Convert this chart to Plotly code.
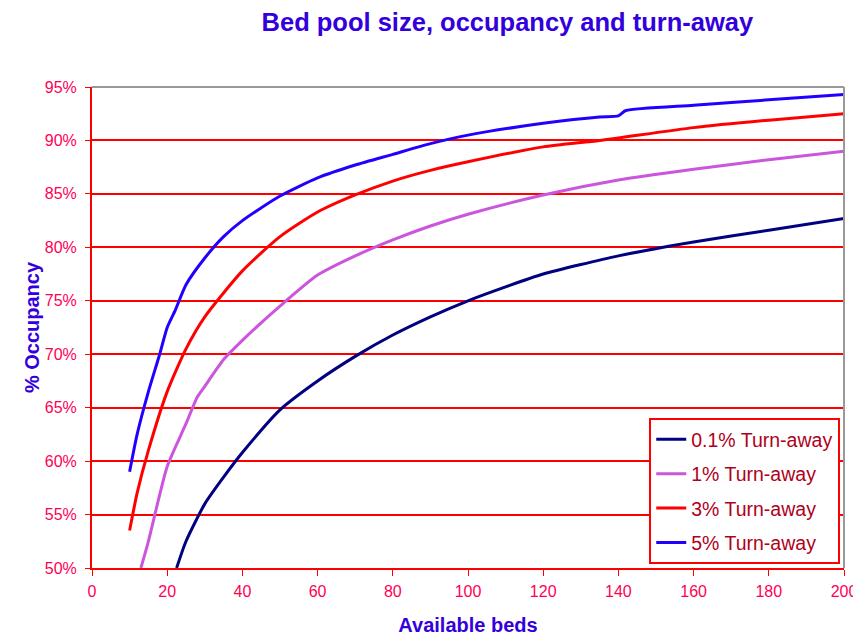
import plotly.graph_objects as go

# 0.1% turn-away
x_01 = [22.5, 25, 30, 35, 40, 50, 60, 70, 80, 90, 100, 110, 120, 140, 160, 180, 200]
y_01 = [50.0, 52.5, 56.0, 58.5, 60.8, 64.8, 67.5, 69.8, 71.8, 73.5, 75.0, 76.3, 77.5, 79.2, 80.5, 81.6, 82.7]
# 1% turn-away
x_1 = [13, 15, 20, 25, 28, 30, 35, 40, 50, 60, 70, 80, 90, 100, 120, 140, 160, 180, 200]
y_1 = [50.0, 52.5, 59.5, 63.5, 66.0, 67.0, 69.5, 71.3, 74.5, 77.4, 79.2, 80.7, 82.0, 83.1, 84.9, 86.3, 87.3, 88.2, 89.0]
# 3% turn-away
x_3 = [10, 12, 15, 20, 25, 30, 40, 50, 60, 70, 80, 90, 100, 120, 135, 160, 180, 200]
y_3 = [53.5, 57.0, 61.0, 66.5, 70.5, 73.5, 77.8, 81.0, 83.3, 84.9, 86.2, 87.2, 88.0, 89.4, 90.0, 91.2, 91.9, 92.5]
# 5% turn-away
x_5 = [10, 12, 15, 18, 20, 22, 25, 30, 35, 40, 50, 60, 70, 80, 90, 100, 120, 135, 140, 142, 160, 180, 200]
y_5 = [59.0, 62.5, 66.5, 70.0, 72.5, 74.0, 76.5, 79.0, 81.0, 82.5, 84.8, 86.5, 87.7, 88.7, 89.7, 90.5, 91.6, 92.2, 92.3, 92.8, 93.3, 93.8, 94.3]

series = [
    ("0.1% Turn-away", x_01, y_01, "#000080"),
    ("1% Turn-away", x_1, y_1, "#CC55DD"),
    ("3% Turn-away", x_3, y_3, "#FF0000"),
    ("5% Turn-away", x_5, y_5, "#2200FF"),
]

fig = go.Figure()
for i, (name, xs, ys, col) in enumerate(series):
    fig.add_trace(go.Scatter(x=xs, y=ys, mode="lines", name=name,
                             line=dict(color=col, width=3, shape="spline", smoothing=0.6),
                             legendgroup=str(i)))

tickfont = dict(family="Arial, Liberation Sans", size=16, color="#FF0055")
titlefont = dict(family="Arial, Liberation Sans", size=20, color="#3300DD", weight="bold")

fig.update_layout(
    width=861, height=637,
    margin=dict(l=84, r=18, t=79, b=74),
    paper_bgcolor="white", plot_bgcolor="white",
    showlegend=True,
    title=dict(text="Bed pool size, occupancy and turn-away",
               font=dict(family="Arial, Liberation Sans", size=25.5, color="#3300DD", weight="bold"),
               x=0.58, xanchor="center", y=0.978, yanchor="middle"),
    xaxis=dict(range=[0, 200], dtick=20, tick0=0, showgrid=False, zeroline=False,
               showline=True, linecolor="#FF0000", linewidth=2,
               ticks="outside", ticklen=6, tickcolor="#FF0000", tickwidth=1,
               ticklabelstandoff=2,
               tickfont=tickfont,
               title=dict(text="Available beds", font=titlefont, standoff=19)),
    yaxis=dict(range=[50, 95], dtick=5, tick0=50, ticksuffix="%",
               showgrid=True, gridcolor="#FF0000", gridwidth=1.5, zeroline=False,
               showline=True, linecolor="#FF0000", linewidth=2,
               ticks="outside", ticklen=5, tickcolor="#FF0000", tickwidth=1,
               ticklabelstandoff=5,
               tickfont=tickfont,
               title=dict(text="% Occupancy", font=titlefont, standoff=0)),
    legend=dict(x=0.995, xanchor="right", y=0.008, yanchor="bottom",
                bgcolor="white", bordercolor="#FF0000", borderwidth=2,
                font=dict(family="Arial, Liberation Sans", size=19.5, color="#B00020"),
                tracegroupgap=6),
    shapes=[
        dict(type="line", xref="paper", yref="paper", x0=0, x1=1, y0=1, y1=1,
             line=dict(color="#999999", width=2)),
        dict(type="line", xref="paper", yref="paper", x0=1, x1=1, y0=0, y1=1,
             line=dict(color="#999999", width=2)),
    ],
)

fig.write_html("out.html")
